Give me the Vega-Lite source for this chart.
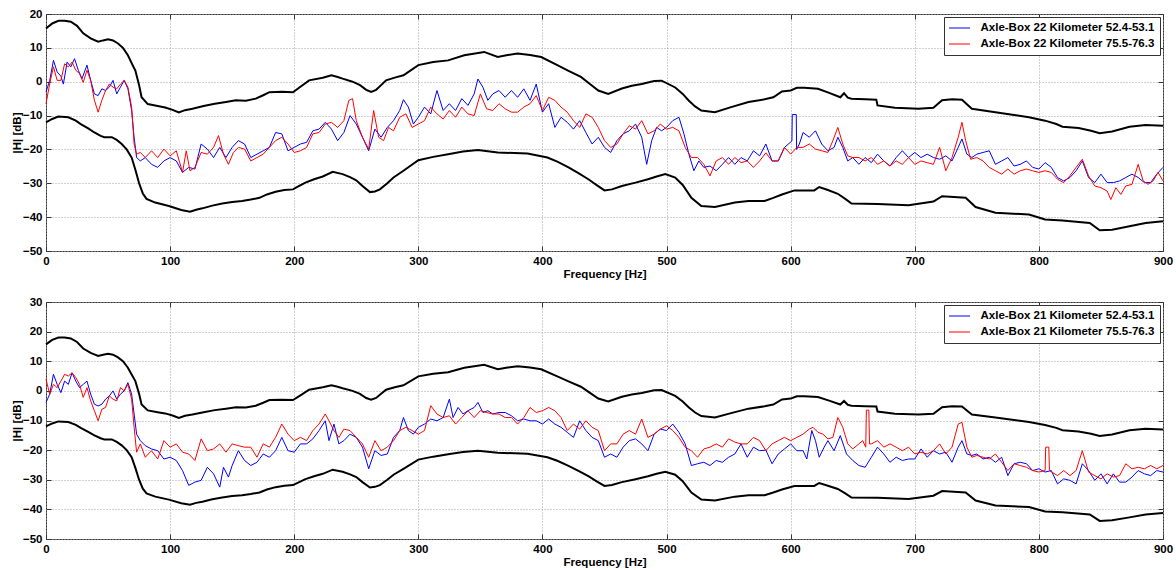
{
"$schema": "https://vega.github.io/schema/vega-lite/v6.json",
"background": "white",
"padding": {"left": 10, "top": 7, "right": 0, "bottom": 0},
"bounds": "flush",
"spacing": 51,
"config": {
  "font": "Liberation Sans",
  "view": {"stroke": "#333", "strokeWidth": 1},
  "axis": {"labelFont": "Liberation Sans", "labelFontWeight": "bold", "labelFontSize": 11.5, "labelColor": "#000",
           "titleFont": "Liberation Sans", "titleFontWeight": "bold", "titleFontSize": 11.5, "titleColor": "#000",
           "domain": false, "tickColor": "#333", "tickSize": -5, "labelPadding": 9, "gridColor": "#a0a0a0", "gridDash": [1, 2], "gridOpacity": 1, "gridWidth": 1, "labelOverlap": false},
  "legend": {"orient": "top-right", "offset": 3, "strokeColor": "#333", "fillColor": "#fff", "padding": 5,
             "symbolType": "M-2,0H2", "symbolSize": 110, "symbolStrokeWidth": 1, "symbolOffset": 4.5, "labelOffset": 15, "rowPadding": 4,
             "labelFont": "Liberation Sans", "labelFontSize": 11.5, "labelFontWeight": "bold", "labelColor": "#000", "labelLimit": 0}
},
"resolve": {"scale": {"color": "independent"}, "legend": {"color": "independent"}},
"datasets": {
"env_u": [{"f":0,"v":15.7},{"f":5,"v":17.2},{"f":10,"v":18.0},{"f":15,"v":18.0},{"f":20,"v":17.7},{"f":25,"v":16.5},{"f":30,"v":14.3},{"f":36,"v":12.8},{"f":42,"v":11.8},{"f":46,"v":12.2},{"f":50,"v":12.5},{"f":54,"v":12.2},{"f":58,"v":11.3},{"f":62,"v":10},{"f":66,"v":7.8},{"f":69,"v":5.5},{"f":72,"v":3.3},{"f":75,"v":-1},{"f":77,"v":-4.6},{"f":82,"v":-6.6},{"f":90,"v":-7.2},{"f":96,"v":-7.6},{"f":102,"v":-8.3},{"f":107,"v":-9.1},{"f":112,"v":-8.4},{"f":118,"v":-8.0},{"f":127,"v":-7.2},{"f":136,"v":-6.5},{"f":145,"v":-6.0},{"f":153,"v":-5.5},{"f":161,"v":-5.6},{"f":169,"v":-5.0},{"f":175,"v":-4.0},{"f":180,"v":-3.1},{"f":190,"v":-3.0},{"f":199,"v":-3.1},{"f":205,"v":-1.5},{"f":212,"v":0.4},{"f":223,"v":1.2},{"f":230,"v":1.9},{"f":235,"v":1.4},{"f":239,"v":0.9},{"f":247,"v":0},{"f":253,"v":-1.0},{"f":258,"v":-2.4},{"f":262,"v":-3.0},{"f":266,"v":-2.4},{"f":270,"v":-1.0},{"f":274,"v":0.4},{"f":281,"v":1.2},{"f":288,"v":1.9},{"f":300,"v":4.9},{"f":312,"v":5.8},{"f":324,"v":6.3},{"f":337,"v":7.8},{"f":353,"v":8.8},{"f":364,"v":7.3},{"f":372,"v":7.9},{"f":380,"v":8.3},{"f":390,"v":7.9},{"f":399,"v":7.3},{"f":412,"v":4.9},{"f":421,"v":3.2},{"f":431,"v":1.4},{"f":438,"v":-0.6},{"f":445,"v":-2.6},{"f":453,"v":-3.6},{"f":464,"v":-2.0},{"f":472,"v":-1.2},{"f":480,"v":-0.7},{"f":490,"v":0.2},{"f":496,"v":0.3},{"f":507,"v":-1.7},{"f":513,"v":-3.6},{"f":518,"v":-5.6},{"f":523,"v":-7.3},{"f":528,"v":-8.5},{"f":539,"v":-9.0},{"f":552,"v":-7.5},{"f":566,"v":-6.0},{"f":579,"v":-5.2},{"f":586,"v":-4.6},{"f":593,"v":-2.9},{"f":600,"v":-2.6},{"f":605,"v":-1.8},{"f":611,"v":-1.8},{"f":622,"v":-2.1},{"f":631,"v":-3.3},{"f":640,"v":-4.6},{"f":643,"v":-3.4},{"f":646,"v":-4.7},{"f":649,"v":-5.0},{"f":660,"v":-5.2},{"f":669,"v":-5.3},{"f":670,"v":-7.0},{"f":684,"v":-7.7},{"f":703,"v":-8.0},{"f":715,"v":-7.7},{"f":722,"v":-5.5},{"f":730,"v":-5.2},{"f":738,"v":-5.3},{"f":746,"v":-8.0},{"f":765,"v":-9.0},{"f":780,"v":-9.8},{"f":792,"v":-10.5},{"f":805,"v":-11.5},{"f":814,"v":-12.5},{"f":819,"v":-13.3},{"f":832,"v":-13.7},{"f":842,"v":-14.5},{"f":849,"v":-15.2},{"f":859,"v":-14.7},{"f":873,"v":-13.3},{"f":886,"v":-12.8},{"f":900,"v":-13.0}],
"env_l": [{"f":0,"v":-12.0},{"f":5,"v":-11.0},{"f":10,"v":-10.3},{"f":18,"v":-10.5},{"f":24,"v":-11.5},{"f":28,"v":-12.5},{"f":34,"v":-13.8},{"f":39,"v":-15},{"f":44,"v":-16},{"f":47,"v":-16.4},{"f":53,"v":-16.4},{"f":57,"v":-17.2},{"f":61,"v":-18.4},{"f":65,"v":-20},{"f":69,"v":-22.4},{"f":72,"v":-26},{"f":75,"v":-30},{"f":78,"v":-33},{"f":81,"v":-34.6},{"f":88,"v":-35.7},{"f":99,"v":-36.7},{"f":109,"v":-37.9},{"f":116,"v":-38.4},{"f":121,"v":-37.8},{"f":126,"v":-37.4},{"f":134,"v":-36.6},{"f":142,"v":-36},{"f":150,"v":-35.5},{"f":158,"v":-35.2},{"f":165,"v":-34.8},{"f":172,"v":-34.3},{"f":178,"v":-33.3},{"f":185,"v":-32.5},{"f":192,"v":-32.0},{"f":199,"v":-31.8},{"f":204,"v":-30.8},{"f":209,"v":-29.8},{"f":216,"v":-28.8},{"f":223,"v":-28},{"f":231,"v":-26.6},{"f":239,"v":-27.3},{"f":245,"v":-28.2},{"f":250,"v":-29.1},{"f":255,"v":-30.8},{"f":261,"v":-32.6},{"f":265,"v":-32.4},{"f":269,"v":-31.8},{"f":275,"v":-30},{"f":280,"v":-28.3},{"f":288,"v":-26.3},{"f":300,"v":-23.2},{"f":312,"v":-22.2},{"f":324,"v":-21.4},{"f":336,"v":-20.6},{"f":348,"v":-20.2},{"f":364,"v":-20.9},{"f":388,"v":-21.2},{"f":404,"v":-22.4},{"f":412,"v":-23.6},{"f":421,"v":-25.3},{"f":429,"v":-27},{"f":437,"v":-28.8},{"f":444,"v":-30.6},{"f":450,"v":-32.1},{"f":456,"v":-31.8},{"f":464,"v":-30.8},{"f":475,"v":-29.8},{"f":485,"v":-28.8},{"f":492,"v":-28.0},{"f":499,"v":-27.3},{"f":507,"v":-28.3},{"f":513,"v":-30.5},{"f":520,"v":-34.3},{"f":528,"v":-36.7},{"f":539,"v":-37},{"f":555,"v":-35.7},{"f":566,"v":-35.2},{"f":579,"v":-35.2},{"f":586,"v":-34.3},{"f":593,"v":-33.3},{"f":603,"v":-32.1},{"f":619,"v":-32.1},{"f":623,"v":-31.1},{"f":630,"v":-32},{"f":638,"v":-33.1},{"f":644,"v":-34.6},{"f":649,"v":-36},{"f":670,"v":-36.1},{"f":695,"v":-36.5},{"f":715,"v":-35.4},{"f":722,"v":-33.8},{"f":741,"v":-34.3},{"f":749,"v":-37},{"f":765,"v":-38.7},{"f":792,"v":-39.2},{"f":805,"v":-40.7},{"f":819,"v":-41},{"f":841,"v":-41.7},{"f":849,"v":-43.9},{"f":859,"v":-43.7},{"f":873,"v":-42.7},{"f":886,"v":-41.7},{"f":900,"v":-41.2}],
"t_b": [{"f":0,"v":-3},{"f":3,"v":0.4},{"f":6,"v":6.3},{"f":9,"v":2.9},{"f":12,"v":1.6},{"f":14,"v":-0.7},{"f":17,"v":5.8},{"f":20,"v":4.4},{"f":23,"v":6.8},{"f":26,"v":3.4},{"f":29,"v":0.9},{"f":33,"v":4.9},{"f":36,"v":0.4},{"f":39,"v":-3.6},{"f":42,"v":-4.1},{"f":45,"v":-2.1},{"f":48,"v":-2.6},{"f":51,"v":-1.6},{"f":54,"v":0.4},{"f":57,"v":-3.6},{"f":60,"v":-1.6},{"f":63,"v":0.4},{"f":66,"v":-2.1},{"f":69,"v":-8.5},{"f":71,"v":-16.4},{"f":73,"v":-22.4},{"f":76,"v":-23.4},{"f":80,"v":-22.4},{"f":85,"v":-24.4},{"f":90,"v":-25.3},{"f":95,"v":-23.4},{"f":100,"v":-22.4},{"f":105,"v":-23.4},{"f":110,"v":-26.8},{"f":115,"v":-25.3},{"f":120,"v":-25.8},{"f":125,"v":-18.4},{"f":130,"v":-19.9},{"f":135,"v":-22.4},{"f":140,"v":-19.4},{"f":145,"v":-22.4},{"f":150,"v":-19.4},{"f":155,"v":-17.4},{"f":160,"v":-18.4},{"f":165,"v":-22.4},{"f":170,"v":-21.4},{"f":175,"v":-20.4},{"f":180,"v":-19.4},{"f":185,"v":-15.0},{"f":190,"v":-15.4},{"f":195,"v":-20.4},{"f":200,"v":-19.4},{"f":205,"v":-18.4},{"f":210,"v":-17.9},{"f":215,"v":-14.5},{"f":220,"v":-14.0},{"f":225,"v":-12.0},{"f":230,"v":-14.0},{"f":235,"v":-17.4},{"f":240,"v":-15.0},{"f":245,"v":-10.0},{"f":250,"v":-12.5},{"f":255,"v":-16.4},{"f":260,"v":-20.4},{"f":265,"v":-14.0},{"f":270,"v":-16.4},{"f":275,"v":-13.5},{"f":280,"v":-11.5},{"f":285,"v":-8.5},{"f":288,"v":-5.3},{"f":292,"v":-7.5},{"f":296,"v":-12.5},{"f":300,"v":-10.5},{"f":305,"v":-7.5},{"f":310,"v":-9.5},{"f":315,"v":-2.6},{"f":320,"v":-8.5},{"f":325,"v":-6.5},{"f":330,"v":-8.5},{"f":335,"v":-5.0},{"f":340,"v":-7.0},{"f":345,"v":-3.6},{"f":348,"v":0.8},{"f":352,"v":-1.6},{"f":356,"v":-5.5},{"f":360,"v":-3.6},{"f":365,"v":-2.6},{"f":370,"v":-4.6},{"f":375,"v":-2.6},{"f":380,"v":-4.6},{"f":385,"v":-2.1},{"f":390,"v":-5.5},{"f":395,"v":-0.7},{"f":400,"v":-9.0},{"f":405,"v":-6.5},{"f":410,"v":-13.5},{"f":415,"v":-10.5},{"f":420,"v":-12.0},{"f":425,"v":-14.0},{"f":430,"v":-11.5},{"f":435,"v":-15.0},{"f":440,"v":-18.4},{"f":445,"v":-16.4},{"f":450,"v":-19.4},{"f":455,"v":-20.9},{"f":460,"v":-17.4},{"f":465,"v":-15.4},{"f":470,"v":-14.5},{"f":475,"v":-12.5},{"f":480,"v":-16.4},{"f":484,"v":-24.4},{"f":488,"v":-17.4},{"f":492,"v":-13.5},{"f":496,"v":-14.5},{"f":500,"v":-13.5},{"f":505,"v":-11.5},{"f":510,"v":-10.5},{"f":514,"v":-15.4},{"f":518,"v":-21.4},{"f":522,"v":-26.3},{"f":526,"v":-23.4},{"f":530,"v":-25.3},{"f":535,"v":-24.9},{"f":540,"v":-26.3},{"f":545,"v":-24.4},{"f":550,"v":-22.4},{"f":555,"v":-24.4},{"f":560,"v":-22.4},{"f":565,"v":-23.4},{"f":570,"v":-20.4},{"f":575,"v":-21.9},{"f":580,"v":-18.4},{"f":585,"v":-23.4},{"f":590,"v":-23.4},{"f":595,"v":-19.4},{"f":601,"v":-17.5},{"f":601.3,"v":-9.7},{"f":604.5,"v":-9.7},{"f":604.8,"v":-20},{"f":607,"v":-18.4},{"f":610,"v":-15.0},{"f":615,"v":-16.4},{"f":620,"v":-14.5},{"f":625,"v":-18.4},{"f":630,"v":-20.4},{"f":635,"v":-19.4},{"f":638,"v":-16.4},{"f":642,"v":-19.4},{"f":646,"v":-23.4},{"f":650,"v":-22.4},{"f":655,"v":-24.4},{"f":660,"v":-22.4},{"f":665,"v":-23.9},{"f":670,"v":-21.4},{"f":675,"v":-23.4},{"f":680,"v":-24.9},{"f":685,"v":-22.4},{"f":690,"v":-20.4},{"f":695,"v":-22.4},{"f":700,"v":-20.9},{"f":705,"v":-22.4},{"f":710,"v":-21.4},{"f":715,"v":-22.4},{"f":720,"v":-22.9},{"f":725,"v":-21.9},{"f":730,"v":-23.4},{"f":735,"v":-19.4},{"f":738,"v":-16.9},{"f":742,"v":-21.4},{"f":746,"v":-22.4},{"f":750,"v":-21.4},{"f":755,"v":-20.9},{"f":760,"v":-20.4},{"f":765,"v":-24.4},{"f":770,"v":-23.4},{"f":775,"v":-22.4},{"f":780,"v":-24.9},{"f":785,"v":-24.4},{"f":790,"v":-23.4},{"f":795,"v":-25.3},{"f":800,"v":-25.8},{"f":805,"v":-23.9},{"f":810,"v":-25.3},{"f":815,"v":-28.3},{"f":820,"v":-29.3},{"f":825,"v":-28.3},{"f":830,"v":-26.3},{"f":835,"v":-23.4},{"f":840,"v":-28.3},{"f":845,"v":-29.8},{"f":850,"v":-27.3},{"f":855,"v":-29.8},{"f":860,"v":-29.8},{"f":865,"v":-29.3},{"f":870,"v":-28.3},{"f":875,"v":-27.3},{"f":880,"v":-28.3},{"f":885,"v":-29.8},{"f":890,"v":-29.8},{"f":895,"v":-27.3},{"f":900,"v":-25.3}],
"t_r": [{"f":0,"v":-6.5},{"f":3,"v":-0.6},{"f":6,"v":4.4},{"f":9,"v":0.4},{"f":12,"v":0.4},{"f":15,"v":5.3},{"f":18,"v":4.4},{"f":21,"v":5.8},{"f":24,"v":3.4},{"f":27,"v":2.4},{"f":30,"v":-0.2},{"f":33,"v":3.4},{"f":36,"v":0.4},{"f":39,"v":-5.5},{"f":42,"v":-9.0},{"f":45,"v":-5.5},{"f":48,"v":-2.6},{"f":51,"v":-0.7},{"f":54,"v":-1.6},{"f":57,"v":-2.1},{"f":60,"v":-0.7},{"f":63,"v":0.4},{"f":66,"v":-1.6},{"f":69,"v":-7.5},{"f":71,"v":-18.4},{"f":73,"v":-21.4},{"f":76,"v":-20.9},{"f":80,"v":-22.4},{"f":85,"v":-20.4},{"f":90,"v":-22.4},{"f":95,"v":-19.9},{"f":100,"v":-21.9},{"f":105,"v":-20.4},{"f":110,"v":-26.8},{"f":113,"v":-20.4},{"f":116,"v":-26.3},{"f":120,"v":-25.3},{"f":125,"v":-20.9},{"f":130,"v":-21.4},{"f":135,"v":-19.4},{"f":139,"v":-15.9},{"f":143,"v":-21.4},{"f":147,"v":-24.4},{"f":151,"v":-20.9},{"f":155,"v":-19.4},{"f":160,"v":-19.9},{"f":165,"v":-23.4},{"f":170,"v":-22.4},{"f":175,"v":-21.4},{"f":180,"v":-19.4},{"f":185,"v":-17.4},{"f":190,"v":-16.4},{"f":195,"v":-18.4},{"f":200,"v":-20.9},{"f":205,"v":-20.4},{"f":210,"v":-19.4},{"f":215,"v":-15.4},{"f":220,"v":-15.0},{"f":225,"v":-12.5},{"f":230,"v":-12.0},{"f":235,"v":-13.5},{"f":240,"v":-11.5},{"f":244,"v":-5.5},{"f":247,"v":-5.0},{"f":250,"v":-11.5},{"f":255,"v":-16.4},{"f":260,"v":-19.9},{"f":264,"v":-8.5},{"f":268,"v":-16.4},{"f":272,"v":-17.4},{"f":276,"v":-13.5},{"f":280,"v":-14.5},{"f":285,"v":-10.5},{"f":290,"v":-9.5},{"f":295,"v":-13.5},{"f":300,"v":-12.5},{"f":305,"v":-11.5},{"f":310,"v":-7.5},{"f":315,"v":-9.5},{"f":320,"v":-11.0},{"f":325,"v":-8.5},{"f":330,"v":-10.5},{"f":335,"v":-7.5},{"f":340,"v":-9.5},{"f":345,"v":-10.0},{"f":350,"v":-3.6},{"f":355,"v":-8.0},{"f":360,"v":-8.5},{"f":365,"v":-6.5},{"f":370,"v":-8.0},{"f":375,"v":-9.0},{"f":380,"v":-9.0},{"f":385,"v":-7.5},{"f":390,"v":-6.5},{"f":395,"v":-4.1},{"f":400,"v":-8.5},{"f":405,"v":-4.6},{"f":410,"v":-5.5},{"f":415,"v":-7.5},{"f":420,"v":-9.0},{"f":425,"v":-11.5},{"f":430,"v":-13.5},{"f":435,"v":-9.5},{"f":440,"v":-10.5},{"f":445,"v":-13.5},{"f":450,"v":-17.4},{"f":455,"v":-19.4},{"f":460,"v":-18.4},{"f":465,"v":-15.4},{"f":470,"v":-13.0},{"f":475,"v":-14.0},{"f":480,"v":-11.5},{"f":485,"v":-15.4},{"f":490,"v":-14.5},{"f":495,"v":-12.5},{"f":500,"v":-14.0},{"f":505,"v":-13.5},{"f":510,"v":-14.5},{"f":515,"v":-19.4},{"f":520,"v":-22.4},{"f":525,"v":-22.4},{"f":530,"v":-24.4},{"f":535,"v":-27.8},{"f":540,"v":-23.4},{"f":545,"v":-22.4},{"f":550,"v":-24.4},{"f":555,"v":-22.4},{"f":560,"v":-23.9},{"f":565,"v":-23.4},{"f":570,"v":-25.3},{"f":575,"v":-23.4},{"f":580,"v":-21.0},{"f":585,"v":-23.4},{"f":590,"v":-23.4},{"f":595,"v":-19.4},{"f":600,"v":-21.4},{"f":605,"v":-19.4},{"f":610,"v":-19.4},{"f":615,"v":-18.4},{"f":620,"v":-19.9},{"f":625,"v":-20.4},{"f":630,"v":-20.9},{"f":634,"v":-17.4},{"f":638,"v":-13.5},{"f":642,"v":-18.4},{"f":646,"v":-21.9},{"f":650,"v":-22.4},{"f":655,"v":-22.4},{"f":660,"v":-23.4},{"f":665,"v":-22.4},{"f":670,"v":-24.4},{"f":675,"v":-23.4},{"f":680,"v":-24.9},{"f":685,"v":-23.4},{"f":690,"v":-24.4},{"f":695,"v":-22.4},{"f":700,"v":-24.4},{"f":705,"v":-23.4},{"f":710,"v":-23.9},{"f":715,"v":-24.4},{"f":720,"v":-19.4},{"f":725,"v":-26.3},{"f":730,"v":-22.4},{"f":735,"v":-16.4},{"f":738,"v":-12.0},{"f":741,"v":-17.4},{"f":745,"v":-22.9},{"f":750,"v":-22.4},{"f":755,"v":-23.4},{"f":760,"v":-25.3},{"f":765,"v":-26.3},{"f":770,"v":-27.3},{"f":775,"v":-25.8},{"f":780,"v":-27.3},{"f":785,"v":-26.3},{"f":790,"v":-25.8},{"f":795,"v":-26.3},{"f":800,"v":-26.8},{"f":805,"v":-26.3},{"f":810,"v":-26.8},{"f":815,"v":-28.8},{"f":820,"v":-29.8},{"f":825,"v":-27.8},{"f":830,"v":-25.3},{"f":835,"v":-22.9},{"f":840,"v":-27.8},{"f":845,"v":-30.8},{"f":850,"v":-31.3},{"f":855,"v":-32.3},{"f":858,"v":-34.8},{"f":862,"v":-31.3},{"f":866,"v":-33.3},{"f":870,"v":-30.8},{"f":875,"v":-30.3},{"f":880,"v":-24.4},{"f":884,"v":-29.3},{"f":888,"v":-30.3},{"f":892,"v":-29.3},{"f":896,"v":-26.8},{"f":900,"v":-29.3}],
"b_b": [{"f":0,"v":-3.9},{"f":3,"v":-1.1},{"f":6,"v":5.6},{"f":9,"v":2.2},{"f":12,"v":-0.6},{"f":15,"v":3.3},{"f":18,"v":2.2},{"f":21,"v":6.1},{"f":24,"v":3.3},{"f":27,"v":1.1},{"f":30,"v":2.2},{"f":33,"v":3.3},{"f":36,"v":-1.1},{"f":39,"v":-4.5},{"f":42,"v":-5.1},{"f":45,"v":-4.5},{"f":48,"v":-2.8},{"f":51,"v":-1.7},{"f":54,"v":0},{"f":57,"v":-2.8},{"f":60,"v":-1.1},{"f":63,"v":0},{"f":66,"v":2.8},{"f":69,"v":-1.1},{"f":71,"v":-7.8},{"f":73,"v":-14.6},{"f":76,"v":-16.8},{"f":80,"v":-18.5},{"f":85,"v":-19.6},{"f":90,"v":-20.2},{"f":95,"v":-23.0},{"f":100,"v":-22.4},{"f":105,"v":-23.5},{"f":110,"v":-26.9},{"f":115,"v":-31.9},{"f":120,"v":-30.8},{"f":125,"v":-30.2},{"f":130,"v":-25.8},{"f":135,"v":-28.0},{"f":140,"v":-32.5},{"f":143,"v":-25.8},{"f":147,"v":-29.1},{"f":150,"v":-25.2},{"f":155,"v":-20.2},{"f":160,"v":-23.5},{"f":165,"v":-25.2},{"f":170,"v":-24.1},{"f":175,"v":-21.3},{"f":180,"v":-22.4},{"f":185,"v":-20.2},{"f":190,"v":-15.7},{"f":195,"v":-20.2},{"f":200,"v":-20.7},{"f":205,"v":-17.9},{"f":210,"v":-17.9},{"f":215,"v":-16.2},{"f":220,"v":-13.4},{"f":225,"v":-10.1},{"f":228,"v":-16.8},{"f":232,"v":-11.2},{"f":236,"v":-17.9},{"f":240,"v":-16.8},{"f":245,"v":-14.6},{"f":250,"v":-15.7},{"f":255,"v":-19.0},{"f":260,"v":-26.3},{"f":265,"v":-20.2},{"f":270,"v":-21.8},{"f":275,"v":-21.3},{"f":280,"v":-15.7},{"f":285,"v":-13.4},{"f":288,"v":-9.0},{"f":292,"v":-13.4},{"f":296,"v":-14.6},{"f":300,"v":-12.3},{"f":305,"v":-11.2},{"f":310,"v":-9.5},{"f":315,"v":-10.1},{"f":320,"v":-9.0},{"f":325,"v":-2.8},{"f":328,"v":-9.0},{"f":332,"v":-5.6},{"f":336,"v":-7.8},{"f":340,"v":-6.7},{"f":345,"v":-5.6},{"f":348,"v":-3.9},{"f":352,"v":-7.3},{"f":356,"v":-6.7},{"f":360,"v":-7.8},{"f":365,"v":-7.3},{"f":370,"v":-7.3},{"f":375,"v":-8.4},{"f":380,"v":-10.1},{"f":385,"v":-9.5},{"f":390,"v":-10.1},{"f":395,"v":-10.1},{"f":400,"v":-11.2},{"f":405,"v":-9.5},{"f":410,"v":-11.2},{"f":415,"v":-12.3},{"f":420,"v":-14.0},{"f":425,"v":-15.7},{"f":430,"v":-10.1},{"f":435,"v":-13.4},{"f":440,"v":-15.7},{"f":445,"v":-16.8},{"f":450,"v":-22.4},{"f":455,"v":-21.3},{"f":460,"v":-22.4},{"f":465,"v":-19.0},{"f":470,"v":-16.8},{"f":475,"v":-16.2},{"f":480,"v":-17.9},{"f":485,"v":-20.2},{"f":490,"v":-14.6},{"f":495,"v":-12.9},{"f":500,"v":-13.4},{"f":505,"v":-11.2},{"f":510,"v":-14.0},{"f":515,"v":-17.9},{"f":520,"v":-25.2},{"f":525,"v":-24.6},{"f":530,"v":-24.1},{"f":535,"v":-25.2},{"f":540,"v":-23.5},{"f":545,"v":-24.1},{"f":550,"v":-22.4},{"f":555,"v":-21.3},{"f":560,"v":-17.9},{"f":565,"v":-22.4},{"f":570,"v":-19.0},{"f":575,"v":-20.2},{"f":580,"v":-20},{"f":585,"v":-24.6},{"f":590,"v":-21.3},{"f":595,"v":-19.6},{"f":600,"v":-17.9},{"f":605,"v":-20.2},{"f":610,"v":-20.2},{"f":613,"v":-23.0},{"f":617,"v":-13.4},{"f":620,"v":-16.8},{"f":623,"v":-22.4},{"f":627,"v":-19.0},{"f":630,"v":-16.8},{"f":635,"v":-20.2},{"f":640,"v":-15.1},{"f":645,"v":-21.3},{"f":650,"v":-23.5},{"f":655,"v":-25.2},{"f":660,"v":-25.8},{"f":665,"v":-22.4},{"f":670,"v":-19.0},{"f":675,"v":-21.3},{"f":680,"v":-24.1},{"f":685,"v":-22.4},{"f":690,"v":-23.5},{"f":695,"v":-23.0},{"f":700,"v":-23.0},{"f":705,"v":-19.6},{"f":710,"v":-22.4},{"f":715,"v":-20.2},{"f":720,"v":-21.3},{"f":725,"v":-20.7},{"f":730,"v":-24.1},{"f":735,"v":-19.0},{"f":738,"v":-16.8},{"f":742,"v":-21.3},{"f":746,"v":-21.8},{"f":750,"v":-21.3},{"f":755,"v":-23.0},{"f":760,"v":-22.4},{"f":765,"v":-24.1},{"f":770,"v":-22.4},{"f":775,"v":-28.6},{"f":780,"v":-24.6},{"f":785,"v":-24.1},{"f":790,"v":-24.6},{"f":795,"v":-26.9},{"f":800,"v":-26.3},{"f":805,"v":-27.4},{"f":810,"v":-26.9},{"f":815,"v":-31.4},{"f":820,"v":-29.7},{"f":825,"v":-30.2},{"f":830,"v":-31.4},{"f":835,"v":-24.6},{"f":840,"v":-26.9},{"f":845,"v":-30.2},{"f":850,"v":-28.0},{"f":855,"v":-31.4},{"f":860,"v":-28.0},{"f":865,"v":-30.8},{"f":870,"v":-30.8},{"f":875,"v":-29.1},{"f":880,"v":-26.9},{"f":885,"v":-28.0},{"f":890,"v":-28.6},{"f":895,"v":-26.9},{"f":900,"v":-27.4}],
"b_r": [{"f":0,"v":3.9},{"f":3,"v":-1.1},{"f":6,"v":2.2},{"f":9,"v":1.1},{"f":12,"v":3.3},{"f":15,"v":5.6},{"f":18,"v":5.0},{"f":21,"v":6.1},{"f":24,"v":4.5},{"f":27,"v":2.2},{"f":30,"v":-2.2},{"f":33,"v":1.1},{"f":36,"v":-3.4},{"f":39,"v":-6.7},{"f":42,"v":-10.1},{"f":45,"v":-6.2},{"f":48,"v":-5.6},{"f":51,"v":-1.7},{"f":54,"v":-2.8},{"f":57,"v":-3.4},{"f":60,"v":1.1},{"f":63,"v":0},{"f":66,"v":2.2},{"f":69,"v":-2.8},{"f":71,"v":-12.3},{"f":73,"v":-20.7},{"f":76,"v":-17.9},{"f":80,"v":-22.4},{"f":85,"v":-20.2},{"f":90,"v":-23.0},{"f":95,"v":-16.8},{"f":100,"v":-19.0},{"f":105,"v":-17.9},{"f":110,"v":-20.7},{"f":115,"v":-21.3},{"f":120,"v":-23.5},{"f":125,"v":-16.2},{"f":130,"v":-20.2},{"f":135,"v":-19.6},{"f":140,"v":-17.9},{"f":145,"v":-20.7},{"f":150,"v":-17.9},{"f":155,"v":-18.5},{"f":160,"v":-19.0},{"f":165,"v":-19.0},{"f":170,"v":-22.4},{"f":175,"v":-17.9},{"f":180,"v":-19.0},{"f":185,"v":-15.7},{"f":190,"v":-11.2},{"f":195,"v":-14.6},{"f":200,"v":-16.8},{"f":205,"v":-15.7},{"f":210,"v":-16.8},{"f":215,"v":-13.4},{"f":220,"v":-11.2},{"f":225,"v":-7.8},{"f":228,"v":-10.1},{"f":232,"v":-13.4},{"f":236,"v":-15.7},{"f":240,"v":-12.9},{"f":245,"v":-13.4},{"f":250,"v":-15.7},{"f":255,"v":-17.9},{"f":260,"v":-22.4},{"f":265,"v":-16.8},{"f":270,"v":-20.2},{"f":275,"v":-19.0},{"f":280,"v":-16.8},{"f":285,"v":-13.4},{"f":290,"v":-12.3},{"f":295,"v":-13.4},{"f":300,"v":-14.6},{"f":305,"v":-13.4},{"f":310,"v":-5.0},{"f":315,"v":-7.8},{"f":320,"v":-9.0},{"f":325,"v":-8.4},{"f":330,"v":-11.2},{"f":335,"v":-9.0},{"f":340,"v":-6.7},{"f":345,"v":-9.0},{"f":350,"v":-6.7},{"f":355,"v":-7.3},{"f":360,"v":-7.8},{"f":365,"v":-7.8},{"f":370,"v":-9.0},{"f":375,"v":-9.0},{"f":380,"v":-11.2},{"f":385,"v":-9.0},{"f":390,"v":-5.6},{"f":395,"v":-7.3},{"f":400,"v":-6.7},{"f":405,"v":-5.6},{"f":410,"v":-6.7},{"f":415,"v":-9.0},{"f":420,"v":-13.4},{"f":425,"v":-11.2},{"f":430,"v":-12.9},{"f":435,"v":-10.1},{"f":440,"v":-12.3},{"f":445,"v":-13.4},{"f":450,"v":-20.2},{"f":455,"v":-17.9},{"f":460,"v":-17.9},{"f":465,"v":-14.6},{"f":470,"v":-13.4},{"f":475,"v":-14.6},{"f":480,"v":-9.5},{"f":485,"v":-15.7},{"f":490,"v":-14.6},{"f":495,"v":-12.9},{"f":500,"v":-11.8},{"f":505,"v":-13.4},{"f":510,"v":-15.7},{"f":515,"v":-19.0},{"f":520,"v":-20.2},{"f":525,"v":-22.4},{"f":530,"v":-19.6},{"f":535,"v":-19.0},{"f":540,"v":-17.9},{"f":545,"v":-19.0},{"f":550,"v":-16.2},{"f":555,"v":-17.3},{"f":560,"v":-17.9},{"f":565,"v":-17.9},{"f":570,"v":-15.7},{"f":575,"v":-16.8},{"f":580,"v":-20.2},{"f":585,"v":-17.9},{"f":590,"v":-16.8},{"f":595,"v":-15.7},{"f":600,"v":-16.8},{"f":605,"v":-15.7},{"f":610,"v":-14.6},{"f":615,"v":-12.9},{"f":618,"v":-12.3},{"f":622,"v":-14.0},{"f":626,"v":-14.6},{"f":630,"v":-16.2},{"f":634,"v":-15.7},{"f":638,"v":-9.0},{"f":642,"v":-12.3},{"f":646,"v":-17.9},{"f":650,"v":-19.6},{"f":655,"v":-17.9},{"f":658,"v":-16.8},{"f":660.5,"v":-19.0},{"f":661,"v":-6.5},{"f":663,"v":-6.5},{"f":663.5,"v":-17.9},{"f":665,"v":-17.9},{"f":670,"v":-16.8},{"f":675,"v":-19.0},{"f":680,"v":-17.9},{"f":685,"v":-19.0},{"f":690,"v":-20.2},{"f":695,"v":-19.0},{"f":700,"v":-21.3},{"f":705,"v":-20.7},{"f":710,"v":-21.3},{"f":715,"v":-20.2},{"f":720,"v":-17.9},{"f":725,"v":-21.3},{"f":730,"v":-19.0},{"f":735,"v":-11.2},{"f":738,"v":-10.6},{"f":742,"v":-19.0},{"f":746,"v":-22.4},{"f":750,"v":-21.8},{"f":755,"v":-22.4},{"f":760,"v":-23.0},{"f":765,"v":-21.3},{"f":770,"v":-24.1},{"f":775,"v":-26.9},{"f":780,"v":-24.6},{"f":785,"v":-25.2},{"f":790,"v":-25.8},{"f":795,"v":-26.9},{"f":800,"v":-27.4},{"f":805,"v":-26.9},{"f":805.5,"v":-19.0},{"f":808,"v":-19.0},{"f":808.5,"v":-26.9},{"f":815,"v":-28.6},{"f":820,"v":-26.9},{"f":825,"v":-28.6},{"f":830,"v":-26.9},{"f":835,"v":-20.2},{"f":840,"v":-27.4},{"f":845,"v":-28.6},{"f":850,"v":-29.7},{"f":855,"v":-28.0},{"f":860,"v":-29.1},{"f":865,"v":-28.6},{"f":870,"v":-24.6},{"f":875,"v":-26.3},{"f":880,"v":-25.8},{"f":885,"v":-26.3},{"f":890,"v":-25.2},{"f":895,"v":-26.3},{"f":900,"v":-25.2}]
},
"vconcat": [
{
  "width": 1117, "height": 237,
  "resolve": {"axis": {"x": "independent", "y": "independent"}},
  "layer": [
    {"data": {"name": "env_u"}, "mark": {"type": "line", "color": "#000", "strokeWidth": 2},
     "encoding": {
       "x": {"field": "f", "type": "quantitative", "scale": {"domain": [0, 900], "nice": false},
             "axis": {"orient": "bottom", "title": "Frequency [Hz]", "values": [0,100,200,300,400,500,600,700,800,900], "labelFlush": false, "titlePadding": 2}},
       "y": {"field": "v", "type": "quantitative", "scale": {"domain": [-50, 20], "nice": false},
             "axis": {"orient": "left", "title": "|H| [dB]", "values": [-50,-40,-30,-20,-10,0,10,20], "labelFlush": false, "titleX": -29, "titleBaseline": "middle"}}}},
    {"data": {"name": "env_l"}, "mark": {"type": "line", "color": "#000", "strokeWidth": 2},
     "encoding": {"x": {"field": "f", "type": "quantitative", "axis": null}, "y": {"field": "v", "type": "quantitative", "axis": null}}},
    {"data": {"name": "t_b"}, "mark": {"type": "line", "strokeWidth": 1},
     "encoding": {"x": {"field": "f", "type": "quantitative", "axis": null}, "y": {"field": "v", "type": "quantitative", "axis": null},
       "color": {"datum": "b", "type": "nominal", "scale": {"domain": ["b", "r"], "range": ["#0000ff", "#ff0000"]},
                 "legend": {"title": null, "labelExpr": "datum.label == 'b' ? 'Axle-Box 22 Kilometer 52.4-53.1' : 'Axle-Box 22 Kilometer 75.5-76.3'"}}}},
    {"data": {"name": "t_r"}, "mark": {"type": "line", "strokeWidth": 1},
     "encoding": {
       "x": {"field": "f", "type": "quantitative", "axis": {"orient": "top", "labels": false, "title": null, "grid": false, "values": [0,100,200,300,400,500,600,700,800,900]}},
       "y": {"field": "v", "type": "quantitative", "axis": {"orient": "right", "labels": false, "title": null, "grid": false, "values": [-50,-40,-30,-20,-10,0,10,20]}},
       "color": {"datum": "r", "type": "nominal"}}}
  ]
},
{
  "width": 1117, "height": 237,
  "resolve": {"axis": {"x": "independent", "y": "independent"}},
  "layer": [
    {"data": {"name": "env_u"}, "mark": {"type": "line", "color": "#000", "strokeWidth": 2},
     "encoding": {
       "x": {"field": "f", "type": "quantitative", "scale": {"domain": [0, 900], "nice": false},
             "axis": {"orient": "bottom", "title": "Frequency [Hz]", "values": [0,100,200,300,400,500,600,700,800,900], "labelFlush": false, "titlePadding": 2}},
       "y": {"field": "v", "type": "quantitative", "scale": {"domain": [-50, 30], "nice": false},
             "axis": {"orient": "left", "title": "|H| [dB]", "values": [-50,-40,-30,-20,-10,0,10,20,30], "labelFlush": false, "titleX": -29, "titleBaseline": "middle"}}}},
    {"data": {"name": "env_l"}, "mark": {"type": "line", "color": "#000", "strokeWidth": 2},
     "encoding": {"x": {"field": "f", "type": "quantitative", "axis": null}, "y": {"field": "v", "type": "quantitative", "axis": null}}},
    {"data": {"name": "b_b"}, "mark": {"type": "line", "strokeWidth": 1},
     "encoding": {"x": {"field": "f", "type": "quantitative", "axis": null}, "y": {"field": "v", "type": "quantitative", "axis": null},
       "color": {"datum": "b", "type": "nominal", "scale": {"domain": ["b", "r"], "range": ["#0000ff", "#ff0000"]},
                 "legend": {"title": null, "labelExpr": "datum.label == 'b' ? 'Axle-Box 21 Kilometer 52.4-53.1' : 'Axle-Box 21 Kilometer 75.5-76.3'"}}}},
    {"data": {"name": "b_r"}, "mark": {"type": "line", "strokeWidth": 1},
     "encoding": {
       "x": {"field": "f", "type": "quantitative", "axis": {"orient": "top", "labels": false, "title": null, "grid": false, "values": [0,100,200,300,400,500,600,700,800,900]}},
       "y": {"field": "v", "type": "quantitative", "axis": {"orient": "right", "labels": false, "title": null, "grid": false, "values": [-50,-40,-30,-20,-10,0,10,20,30]}},
       "color": {"datum": "r", "type": "nominal"}}}
  ]
}
]
}
